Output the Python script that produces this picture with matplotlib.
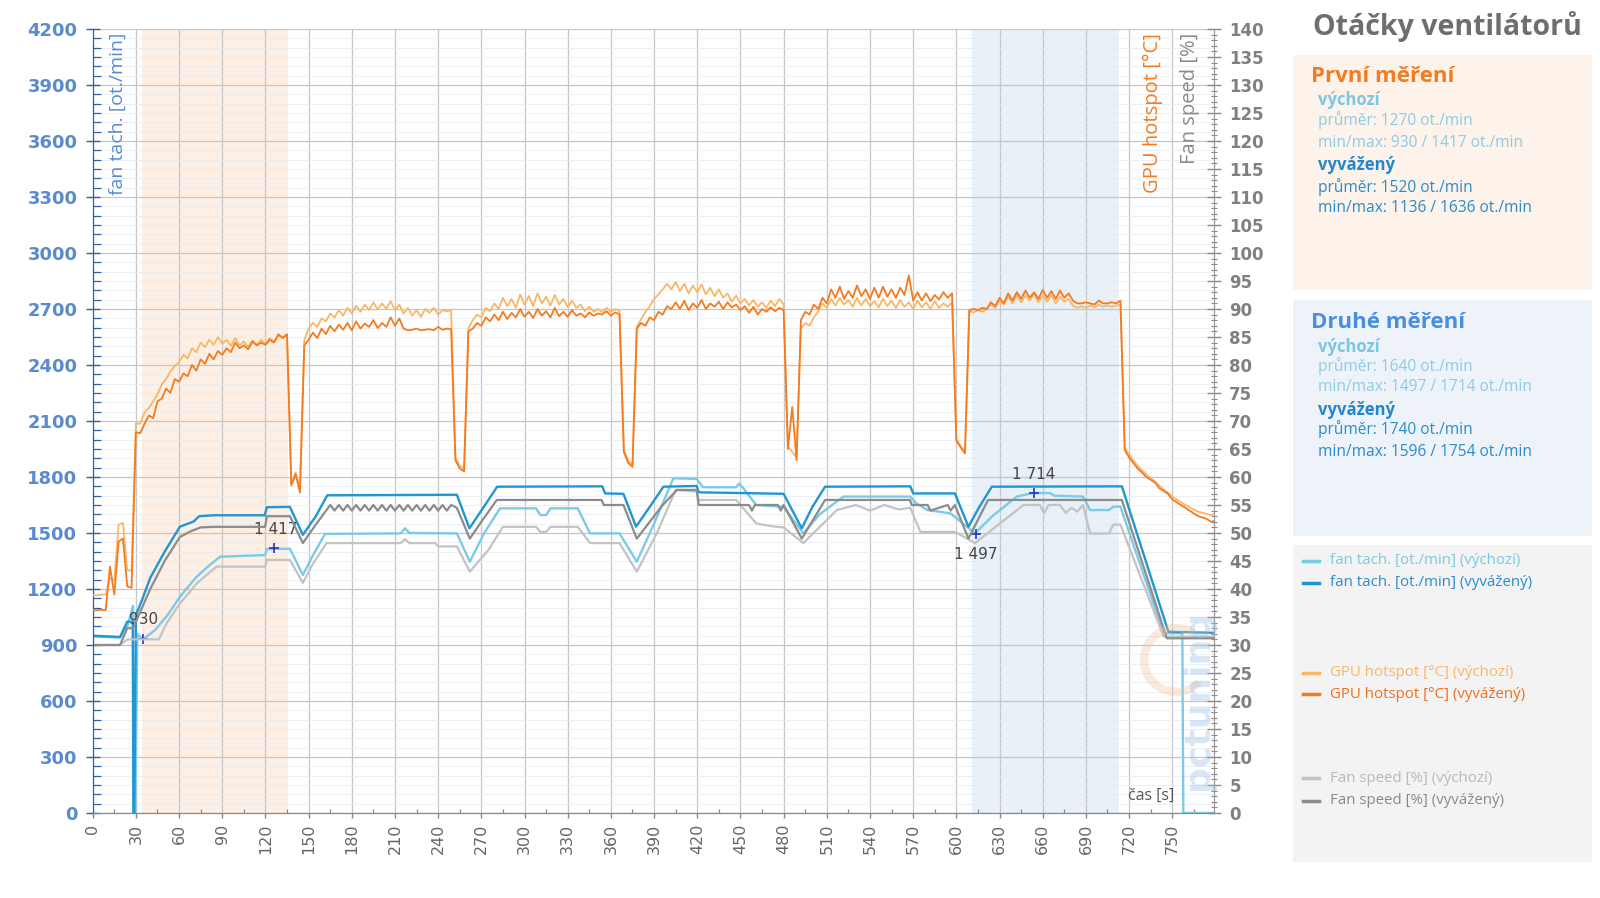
import numpy as np
import matplotlib
matplotlib.use("Agg")
import matplotlib.pyplot as plt
from matplotlib.patches import Rectangle, Arc
from matplotlib.lines import Line2D
from matplotlib.ticker import MultipleLocator

# ---------------- data ----------------
temp_t = np.arange(0, 781, 3)  # sampling grid, seconds

temp_vychozi = [
    38.9, 38.9, 39.0, 39.0, 42.0, 41.5, 51.5, 51.8, 43.4, 43.2,
    69.6, 69.5, 71.5, 72.3, 73.5, 74.8, 76.5, 77.5, 78.8, 79.8,
    80.5, 81.8, 81.2, 83.0, 82.3, 84.0, 83.2, 84.5, 83.6, 85.0,
    83.8, 84.5, 83.4, 84.8, 83.5, 84.2, 83.2, 84.4, 83.6, 84.5,
    83.8, 84.8, 84.2, 85.2, 85.0, 85.3, 58.8, 60.8, 58.0, 84.5,
    86.5, 87.5, 86.8, 88.3, 87.8, 89.2, 88.5, 89.8, 88.8, 90.2,
    89.2, 90.6, 89.5, 90.8, 89.8, 91.2, 89.9, 91.0, 90.0, 91.4,
    89.8, 90.8, 89.2, 90.2, 88.8, 89.8, 88.6, 90.0, 89.3, 90.2,
    89.0, 89.8, 89.6, 89.8, 63.5, 62.0, 61.5, 86.5, 88.0, 89.0,
    88.5, 90.2, 89.6, 91.0, 90.0, 92.0, 90.5, 91.8, 90.2, 92.6,
    90.8, 92.3, 90.5, 92.8, 91.0, 92.2, 90.6, 92.5, 90.8, 91.8,
    90.3, 91.5, 90.2, 90.8, 89.6, 90.4, 89.5, 90.0, 89.4, 90.2,
    89.5, 90.0, 89.6, 64.8, 63.0, 62.2, 86.8, 88.2, 89.5, 90.5,
    91.8, 92.6, 93.5, 94.5, 93.5, 94.8, 93.2, 94.5, 92.8, 94.2,
    93.0, 94.4, 92.6, 93.8, 92.3, 93.5, 92.0, 92.8, 91.3, 92.4,
    91.0, 91.8, 90.6, 91.6, 90.4, 91.2, 90.2, 91.5, 90.5, 91.8,
    90.8, 65.5, 64.5, 63.5, 86.5, 87.5, 87.0, 88.5, 89.5, 91.0,
    90.2, 91.8, 90.6, 92.0, 90.8, 91.6, 90.4, 92.0, 90.6, 91.8,
    90.5, 91.4, 90.3, 91.8, 90.5, 91.5, 90.2, 91.6, 90.4, 91.2,
    90.0, 91.5, 90.3, 91.2, 90.0, 91.4, 90.2, 91.0, 90.4, 91.2,
    66.8, 65.5, 64.5, 89.6, 89.4, 89.8, 89.5, 90.0, 90.8, 90.2,
    91.5, 90.8, 92.2, 91.0, 92.5, 91.2, 92.4, 91.5, 92.6, 91.2,
    92.4, 91.3, 92.5, 91.0, 92.2, 91.3, 91.8, 90.6, 90.2, 90.5,
    90.2, 90.6, 90.3, 90.8, 90.4, 90.6, 90.4, 90.6, 90.8, 65.2,
    64.0, 63.0, 62.0, 61.2, 60.5, 59.8, 59.2, 58.5, 57.8, 57.2,
    56.5, 56.0, 55.5, 55.0, 54.6, 54.2, 53.8, 53.6, 53.4, 53.2,
    53.4,
]

temp_vyvazeny = [
    36.2, 36.2, 36.3, 36.2, 44.0, 39.0, 48.5, 49.0, 40.5, 40.2,
    68.0, 67.8, 69.5, 71.0, 70.5, 73.5, 74.0, 75.8, 75.0, 77.5,
    77.0, 78.5, 78.0, 80.0, 79.0, 81.0, 80.2, 82.0, 81.0, 82.5,
    81.8, 83.0, 82.3, 84.0, 83.0, 83.5, 82.8, 84.2, 83.5, 84.0,
    83.6, 84.5, 84.0, 85.5, 84.8, 85.5, 58.5, 60.5, 57.2, 83.5,
    84.5, 85.8, 84.8, 86.5, 85.5, 87.0, 86.0, 87.2, 86.3, 87.5,
    86.2, 87.8, 86.5, 87.4, 86.8, 88.0, 86.6, 87.5, 86.8, 88.5,
    87.0, 88.3, 86.5, 86.2, 86.3, 86.5, 86.2, 86.3, 86.4, 86.2,
    86.8, 86.3, 86.5, 86.4, 63.0, 61.5, 61.0, 86.0, 86.5, 87.5,
    87.0, 88.5, 87.8, 89.0, 88.0, 89.5, 88.2, 89.3, 88.5, 90.0,
    88.6, 89.5, 88.4, 90.0, 88.8, 89.6, 88.5, 90.2, 88.7, 89.5,
    88.6, 89.8, 88.8, 89.2, 88.5, 89.4, 88.8, 89.2, 89.0, 89.6,
    88.8, 89.4, 89.0, 64.5, 62.5, 61.8, 86.5, 87.5, 87.0, 88.5,
    88.0, 89.5, 89.0, 90.5, 90.0, 91.2, 90.0, 91.5, 89.8, 91.0,
    90.2, 91.6, 90.0, 91.0, 90.4, 91.3, 90.0, 91.2, 90.3, 90.8,
    89.8, 90.5, 89.3, 90.4, 89.0, 90.0, 89.5, 90.3, 89.6, 90.2,
    89.8, 65.0, 72.5, 63.0, 88.0, 89.5, 89.0, 90.8, 90.0, 92.0,
    91.0, 93.5, 92.0, 94.0, 91.8, 93.2, 92.0, 94.2, 92.3, 93.5,
    91.8, 93.8, 92.0, 94.0, 92.2, 93.5, 92.0, 93.8, 92.5, 96.0,
    91.5, 93.0, 91.5, 92.8, 91.4, 92.5, 91.7, 93.0, 92.0, 92.8,
    66.5, 65.3, 64.2, 89.8, 90.0, 89.8, 90.2, 90.0, 91.2, 90.5,
    92.0, 91.0, 92.8, 91.5, 93.0, 91.8, 93.3, 92.0, 93.0, 91.8,
    93.4, 92.0, 93.2, 91.8, 93.3, 92.0, 92.8, 91.5, 91.0, 91.0,
    91.2, 91.0, 90.8, 91.5, 91.0, 91.0, 91.2, 91.0, 91.5, 64.8,
    63.5, 62.5, 61.5, 60.8, 60.0, 59.5, 59.0, 58.0, 57.5, 57.0,
    56.0, 55.5, 55.0, 54.5, 54.0, 53.5, 53.0, 52.8, 52.5, 52.0,
    52.2,
]

tach_vychozi_t = [0, 19, 24, 28, 28.5, 29.6, 31, 35, 43.3, 52,
                  60.7, 66, 72.3, 80, 88.5, 119.8, 121, 137, 146, 153,
                  161.4, 214, 217, 220, 253, 262, 272, 283, 308, 311,
                  315, 318, 337, 345.5, 366, 378, 390, 403.4, 419.6, 424,
                  447, 449, 452, 461, 480, 493.7, 505, 521.5, 568, 572,
                  580, 596, 613, 625, 642, 653, 665, 668, 688, 693,
                  706, 709, 714, 744, 757, 757.7, 780]
tach_vychozi = [945, 940, 1000, 1110, 0, 0, 960, 930, 980, 1060,
                1159, 1210, 1266, 1320, 1373, 1382, 1414, 1416, 1275, 1380,
                1495, 1498, 1525, 1500, 1498, 1346, 1500, 1632, 1632, 1596,
                1596, 1632, 1632, 1498, 1498, 1346, 1550, 1793, 1790, 1745,
                1745, 1765, 1740, 1650, 1640, 1498, 1600, 1695, 1695, 1660,
                1623, 1605, 1498, 1590, 1695, 1714, 1714, 1700, 1695, 1623,
                1623, 1641, 1641, 963, 963, 0, 0]

tach_vyvazeny_t = [0, 19, 24, 27.8, 28.3, 28.9, 30, 34, 40, 50,
                   60.6, 70, 74, 84, 119.5, 121, 137, 146, 155, 163,
                   253, 261.7, 270, 281, 354, 356, 368.7, 377.5, 387, 396.5,
                   419.6, 421, 480, 492.6, 500, 508.8, 568, 570, 599, 608.4,
                   616, 624.6, 715, 747.3, 780]
tach_vyvazeny = [950, 943, 1025, 1025, 0, 0, 1060, 1136, 1260, 1400,
                 1534, 1561, 1590, 1595, 1595, 1638, 1640, 1490, 1590, 1702,
                 1705, 1525, 1620, 1748, 1750, 1712, 1710, 1534, 1640, 1748,
                 1752, 1718, 1710, 1525, 1640, 1748, 1750, 1712, 1712, 1534,
                 1640, 1748, 1750, 971, 965]

fan_vychozi_t = [0, 19, 24, 34, 46, 51.4, 60.6, 72.3, 86, 119.8,
                 121, 137, 146, 153, 162.5, 214, 217, 220, 238, 240,
                 253, 262, 275, 285, 308, 311, 315, 318, 337, 345.5,
                 366, 378, 392, 405, 419.6, 421, 447, 461, 472, 480,
                 493.7, 517, 530, 540, 550, 560, 568, 575, 599, 613,
                 646.6, 658, 661, 664, 672, 676, 680, 684, 688, 693,
                 706, 709, 714, 744, 780]
fan_vychozi = [30, 30, 31, 31, 31, 33.9, 37.4, 41, 44, 44,
               45.2, 45.2, 41.1, 44.5, 48.2, 48.2, 48.9, 48.2, 48.2, 47.6,
               47.6, 43.1, 47, 51.1, 51.1, 50.2, 50.2, 51.1, 51.1, 48.2,
               48.2, 43.1, 50, 57.7, 57.4, 55.9, 55.9, 51.7, 51.2, 51,
               48.2, 54.1, 55, 54, 55, 54.2, 54.5, 50.2, 50.2, 48.2,
               55, 55, 53.5, 55, 55, 53.6, 54.5, 53.8, 55, 49.9,
               49.9, 51.5, 51.5, 31.5, 31.5]

fan_vyvazeny_t = [0, 19, 24, 28, 34, 40, 50, 60.6, 68, 75,
                  83.8, 119.8, 121, 137, 146, 155, 165, 168, 171, 174,
                  177, 180, 183, 186, 189, 192, 195, 198, 201, 204,
                  207, 210, 213, 216, 219, 222, 225, 228, 231, 234,
                  237, 240, 243, 246, 249, 253, 262, 270, 280.7, 353.6,
                  355, 368.7, 378, 387, 396, 406, 419.6, 421, 456, 458,
                  460, 476, 478, 480, 492.6, 508.8, 567.8, 569, 580, 582,
                  594, 596, 599, 608.4, 622, 715, 746.2, 780]
fan_vyvazeny = [30, 30, 33, 33, 36.5, 40, 45, 49.3, 50.3, 51,
                51.1, 51.1, 53, 53, 48.2, 51.5, 55, 54, 55, 54,
                55, 54, 55, 54, 55, 54, 55, 54, 55, 54,
                55, 54, 55, 54, 55, 54, 55, 54, 55, 54,
                55, 54, 55, 54, 55, 54.5, 49, 52, 55.9, 55.9,
                55, 55, 49, 52, 55, 57.7, 57.7, 55, 55, 54,
                55, 55, 54, 55, 49, 55.9, 55.9, 55, 55, 54,
                55, 54, 55, 49, 55.9, 55.9, 31.2, 31.2]

x_ticks = list(range(0, 751, 30))
rpm_ticks = list(range(0, 4201, 300))
pct_ticks = list(range(0, 141, 5))

window1 = (34, 135.5)
window2 = (611, 713.3)

# min/max annotations (výchozí tach)
ann_t = [35, 126, 614, 654]
ann_v = [930, 1417, 1497, 1714]
ann_txt = ["930", "1 417", "1 497", "1 714"]
ann_txt_pos = [(35, 1034), (127, 1518), (613.5, 1387), (654, 1813)]

# ---------------- colours ----------------
C_TACH_VYCH = '#7ccbe6'
C_TACH_VYV = '#2196d3'
C_TEMP_VYCH = '#f9b766'
C_TEMP_VYV = '#f47b20'
C_FAN_VYCH = '#c3c3c3'
C_FAN_VYV = '#8c8c8c'

# ---------------- figure ----------------
W, H = 1600, 898
fig = plt.figure(figsize=(16, 8.98), dpi=100)
fig.patch.set_facecolor('white')
plt.rcParams['font.family'] = ['DejaVu Sans']


def fx(px):
    return px / W


def fy(py):
    return 1 - py / H


L, R, T, B = 92.7, 1214, 29, 813
ax = fig.add_axes([fx(L), fy(B), fx(R) - fx(L), fy(T) - fy(B)])
ax2 = ax.twinx()

ax.set_xlim(0, 779)
ax.set_ylim(0, 4200)
ax2.set_ylim(0, 140)

ax.axvspan(*window1, color='#fdefe3', lw=0, zorder=0.2)
ax.axvspan(*window2, color='#e8f0f8', lw=0, zorder=0.2)

ax.set_axisbelow(True)
ax.set_xticks(x_ticks)
ax.xaxis.set_minor_locator(MultipleLocator(15))
ax.set_yticks(rpm_ticks)
ax.yaxis.set_minor_locator(MultipleLocator(50))
ax.grid(which='major', color='#c6c6c6', lw=0.9)
ax.grid(which='minor', axis='y', color='#e9ecf1', lw=0.6)

ax2.set_yticks(pct_ticks)
ax2.yaxis.set_minor_locator(MultipleLocator(1))

# ticks styling
ax.tick_params(axis='y', which='major', direction='inout', length=10, width=1,
               color='#2f5fa8', labelcolor='#5a8bd0', labelsize=13, pad=6)
ax.tick_params(axis='y', which='minor', direction='in', length=5.5, width=0.9,
               color='#2f5fa8')
ax.tick_params(axis='x', which='major', direction='out', length=3.5, width=1,
               color='#888888', labelcolor='#666666', labelsize=11.5,
               labelrotation=90, pad=4)
ax.tick_params(axis='x', which='minor', direction='in', length=3, width=0.9,
               color='#888888')
ax2.tick_params(axis='y', which='major', direction='inout', length=10, width=1,
                color='#888888', labelcolor='#808080', labelsize=12, pad=6)
ax2.tick_params(axis='y', which='minor', direction='inout', length=5, width=0.8,
                color='#888888')
for lbl in ax.get_yticklabels():
    lbl.set_fontweight('bold')
for lbl in ax2.get_yticklabels():
    lbl.set_fontweight('bold')

for a in (ax, ax2):
    a.spines['top'].set_visible(False)
    a.spines['right'].set_color('#999999')
    a.spines['bottom'].set_color('#888888')
    a.spines['left'].set_color('#2f5fa8')

# tach lines (left axis)
ax.plot(tach_vychozi_t, tach_vychozi, color=C_TACH_VYCH, lw=1.7, zorder=3)
ax.plot(tach_vyvazeny_t, tach_vyvazeny, color=C_TACH_VYV, lw=1.7, zorder=3)

ax.plot(ann_t, ann_v, ls='none', marker='+', color='#2233cc', ms=7, mew=1.2,
        zorder=5)
for (tx, ty), s in zip(ann_txt_pos, ann_txt):
    ax.text(tx, ty, s, ha='center', va='center', fontsize=11, color='#444444',
            zorder=6)

# right axis lines
ax2.plot(fan_vychozi_t, fan_vychozi, color=C_FAN_VYCH, lw=1.6, zorder=2)
ax2.plot(fan_vyvazeny_t, fan_vyvazeny, color=C_FAN_VYV, lw=1.6, zorder=2)
ax2.plot(temp_t, temp_vychozi, color=C_TEMP_VYCH, lw=1.3, zorder=3)
ax2.plot(temp_t, temp_vyvazeny, color=C_TEMP_VYV, lw=1.3, zorder=4)

# in-plot axis titles
fig.text(fx(118), fy(33), 'fan tach. [ot./min]', rotation=90, ha='center',
         va='top', fontsize=14, color='#5a8bd0', family='Open Sans')
fig.text(fx(1153), fy(33), 'GPU hotspot [°C]', rotation=90, ha='center',
         va='top', fontsize=14.5, color=C_TEMP_VYV, family='Open Sans')
fig.text(fx(1190), fy(33), 'Fan speed [%]', rotation=90, ha='center',
         va='top', fontsize=14.5, color='#8a8a8a', family='Open Sans')
fig.text(fx(1151), fy(796), 'čas [s]', ha='center', va='center',
         fontsize=11.5, color='#555555', family='Open Sans')

# watermark
fig.add_artist(Arc((fx(1176), fy(660)), 64 / W, 64 / H, theta1=70, theta2=300,
                   transform=fig.transFigure, edgecolor='#f6c09a', lw=6,
                   alpha=0.35, zorder=3))
fig.text(fx(1198), fy(700), 'pctuning', rotation=90, ha='center', va='center',
         fontsize=26, fontweight='bold', color='#9fc2e6', alpha=0.4,
         family='DejaVu Sans')

# ---------------- right panels ----------------
fig.text(fx(1447), fy(27), 'Otáčky ventilátorů', ha='center', va='center',
         fontsize=20.5, fontweight='bold', color='#6e6e6e', family='Open Sans')


def panel(y0, y1, color):
    fig.add_artist(Rectangle((fx(1293), fy(y1)), fx(1592) - fx(1293),
                             fy(y0) - fy(y1), transform=fig.transFigure,
                             facecolor=color, edgecolor='none', zorder=0))


panel(55, 290, '#fdf3ea')
panel(300, 536, '#edf3f9')
panel(545, 862, '#f3f3f3')

C_SUB_VYCH = '#7cc6e3'
C_SUB_VYV = '#2388cb'

stats = [
    (76, 'První měření', C_TEMP_VYV,
     [(100, 'výchozí', C_SUB_VYCH, True),
      (120, 'průměr: 1270 ot./min', '#8fcbe3', False),
      (143, 'min/max: 930 / 1417 ot./min', '#8fcbe3', False),
      (165, 'vyvážený', C_SUB_VYV, True),
      (187, 'průměr: 1520 ot./min', '#2a8ccb', False),
      (208, 'min/max: 1136 / 1636 ot./min', '#2a8ccb', False)]),
    (322, 'Druhé měření', '#4a8fdf',
     [(347, 'výchozí', C_SUB_VYCH, True),
      (366, 'průměr: 1640 ot./min', '#8fcbe3', False),
      (387, 'min/max: 1497 / 1714 ot./min', '#8fcbe3', False),
      (410, 'vyvážený', C_SUB_VYV, True),
      (429, 'průměr: 1740 ot./min', '#2a8ccb', False),
      (452, 'min/max: 1596 / 1754 ot./min', '#2a8ccb', False)]),
]
for ty, title, tc, rows in stats:
    fig.text(fx(1311), fy(ty), title, ha='left', va='center', fontsize=16,
             fontweight='bold', color=tc, family='Open Sans')
    for ry, txt, rc, bold in rows:
        fig.text(fx(1318), fy(ry), txt, ha='left', va='center',
                 fontsize=12 if bold else 11.2,
                 fontweight='bold' if bold else 'normal', color=rc,
                 family='Open Sans')

legend_items = [
    (561, 'fan tach. [ot./min] (výchozí)', C_TACH_VYCH, '#7cc7e3'),
    (583, 'fan tach. [ot./min] (vyvážený)', C_TACH_VYV, '#2a8ccc'),
    (673, 'GPU hotspot [°C] (výchozí)', C_TEMP_VYCH, '#f9b766'),
    (694, 'GPU hotspot [°C] (vyvážený)', C_TEMP_VYV, '#ef6f1e'),
    (778, 'Fan speed [%] (výchozí)', C_FAN_VYCH, '#b8b8b8'),
    (801, 'Fan speed [%] (vyvážený)', C_FAN_VYV, '#8a8a8a'),
]
for ly, txt, lc, tc in legend_items:
    fig.add_artist(Line2D([fx(1303), fx(1319)], [fy(ly), fy(ly)],
                          transform=fig.transFigure, color=lc, lw=2.5,
                          zorder=2))
    fig.text(fx(1330), fy(ly), txt, ha='left', va='center', fontsize=10.8,
             color=tc, family='Open Sans')

fig.savefig('out.png', dpi=100)
